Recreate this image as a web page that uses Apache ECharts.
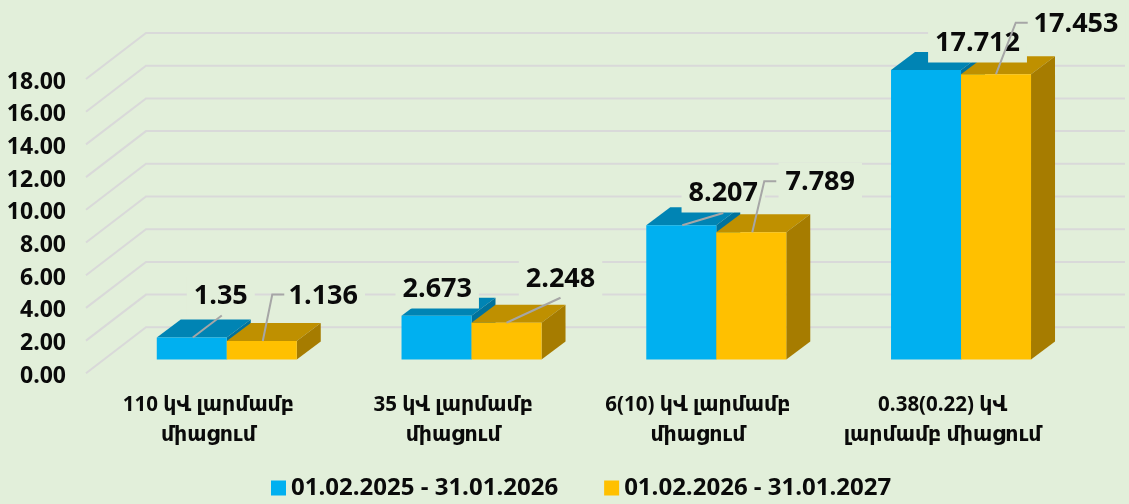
<!DOCTYPE html>
<html>
<head>
<meta charset="utf-8">
<script src="https://cdn.jsdelivr.net/npm/echarts@6/dist/echarts.min.js"></script>
<style>html,body{margin:0;padding:0;background:#e2efda}#c{width:1129px;height:504px}</style>
</head>
<body>
<div id="c"></div>
<script>
const categories = ["110 կՎ լարմամբ\nմիացում", "35 կՎ լարմամբ\nմիացում", "6(10) կՎ լարմամբ\nմիացում", "0.38(0.22) կՎ\nլարմամբ միացում"];
const seriesNames = ["01.02.2025 - 31.01.2026", "01.02.2026 - 31.01.2027"];
const valuesA = [1.35, 2.673, 8.207, 17.712];
const valuesB = [1.136, 2.248, 7.789, 17.453];
const yTicks = [0, 2, 4, 6, 8, 10, 12, 14, 16, 18];

const FONT = '"Open Sans","DejaVu Sans",sans-serif';
const WALL = {dx: 60, dy: -46};
const DEPTH = {startX: 18.4, startY: -13.8, dx: 24, dy: -18};
const BAR_W = 70;
const palette = [
  {front: '#00b0f0', top: '#0084b4', side: '#00729c'},
  {front: '#ffc000', top: '#bf9000', side: '#a67c00'}
];
// label centre and leader vertices, relative to the top centre of the bar's front face
const labelLayout = [
  [{c: [29, -41], l: [[1, 0], [30, -22]]}, {c: [0.7, -26.8], l: []}, {c: [42, -32.3], l: [[1, 0], [42, -12.3]]}, {c: [51.5, -26.9], l: []}],
  [{c: [61.5, -44.5], l: [[1, 0], [10.5, -46.5], [22.5, -46.5]]}, {c: [54, -43.7], l: [[0, 0], [54, -25]]}, {c: [69, -49.6], l: [[1, 0], [13, -51], [25, -51]]}, {c: [80, -49.6], l: [[0, 0], [19.7, -51.5], [31.7, -51.5]]}]
];

function barFront(api, s) {
  const idx = api.value(0), v = api.value(1);
  const base = api.coord([idx, 0]), top = api.coord([idx, v]);
  const cx = base[0] + DEPTH.startX + (s === 0 ? -BAR_W / 2 : BAR_W / 2);
  return {cx, yBase: base[1] + DEPTH.startY, yTop: top[1] + DEPTH.startY};
}
function polyShape(points, fill) {
  return {type: 'polygon', shape: {points}, style: {fill, stroke: null}};
}
function barRenderer(s) {
  return function (params, api) {
    const b = barFront(api, s), L = b.cx - BAR_W / 2, R = b.cx + BAR_W / 2, d = DEPTH, c = palette[s];
    return {type: 'group', children: [
      polyShape([[L, b.yTop], [R, b.yTop], [R + d.dx, b.yTop + d.dy], [L + d.dx, b.yTop + d.dy]], c.top),
      polyShape([[R, b.yTop], [R + d.dx, b.yTop + d.dy], [R + d.dx, b.yBase + d.dy], [R, b.yBase]], c.side),
      polyShape([[L, b.yTop], [R, b.yTop], [R, b.yBase], [L, b.yBase]], c.front)
    ]};
  };
}
function labelRenderer(s, values) {
  return function (params, api) {
    const b = barFront(api, s), spec = labelLayout[s][api.value(0)];
    const kids = [{
      type: 'text',
      style: {
        text: String(values[api.value(0)]),
        x: b.cx + spec.c[0], y: b.yTop + spec.c[1],
        align: 'center', verticalAlign: 'middle',
        font: 'bold 27px ' + FONT, fill: '#0a0a0a',
        backgroundColor: '#e2efda', padding: [6, 7, 6, 7]
      }
    }];
    if (spec.l.length) {
      kids.push({type: 'polyline',
        shape: {points: spec.l.map(p => [b.cx + p[0], b.yTop + p[1]])},
        style: {stroke: '#a6a6a6', lineWidth: 2, fill: null}});
    }
    return {type: 'group', children: kids};
  };
}
function gridRenderer(params, api) {
  const y = api.coord([0, api.value(0)])[1];
  const cs = params.coordSys, r = cs.x + cs.width;
  return {type: 'polyline',
    shape: {points: [[cs.x, y], [cs.x + WALL.dx, y + WALL.dy], [r + WALL.dx, y + WALL.dy]]},
    style: {stroke: '#d9d9d9', lineWidth: 2, fill: null}};
}
const toData = arr => arr.map((v, i) => [i, v]);

const chart = echarts.init(document.getElementById('c'), null, {renderer: 'canvas'});
chart.setOption({
  animation: false,
  backgroundColor: '#e2efda',
  textStyle: {fontFamily: FONT},
  grid: {left: 86, top: 79, width: 979, height: 294.3, containLabel: false},
  legend: {
    data: seriesNames, left: 271, top: 476, icon: 'rect', padding: 0,
    itemWidth: 15, itemHeight: 15, itemGap: 46,
    textStyle: {fontFamily: FONT, fontSize: 24, fontWeight: 'bold', color: '#0a0a0a'}
  },
  xAxis: {
    type: 'category', data: categories,
    axisLine: {show: false}, axisTick: {show: false}, splitLine: {show: false},
    axisLabel: {interval: 0, margin: 17, fontFamily: FONT, fontSize: 20.5, fontWeight: 'bold', color: '#0a0a0a', lineHeight: 30}
  },
  yAxis: {
    type: 'value', min: 0, max: 18, interval: 2,
    axisLine: {show: false}, axisTick: {show: false}, splitLine: {show: false},
    axisLabel: {margin: 20, fontFamily: FONT, fontSize: 23, fontWeight: 'bold', color: '#0a0a0a', verticalAlign: 'top', lineHeight: 6, formatter: v => v.toFixed(2)}
  },
  series: [
    {type: 'custom', name: 'grid', silent: true, z: 1, renderItem: gridRenderer, data: yTicks.map(v => [v]), encode: {y: 0}, tooltip: {show: false}},
    {type: 'custom', name: seriesNames[0], z: 2, itemStyle: {color: palette[0].front}, renderItem: barRenderer(0), data: toData(valuesA), encode: {x: 0, y: 1}},
    {type: 'custom', name: seriesNames[1], z: 3, itemStyle: {color: palette[1].front}, renderItem: barRenderer(1), data: toData(valuesB), encode: {x: 0, y: 1}},
    {type: 'custom', name: 'labelsA', silent: true, z: 4, renderItem: labelRenderer(0, valuesA), data: toData(valuesA), encode: {x: 0, y: 1}},
    {type: 'custom', name: 'labelsB', silent: true, z: 5, renderItem: labelRenderer(1, valuesB), data: toData(valuesB), encode: {x: 0, y: 1}}
  ]
});
</script>
</body>
</html>
